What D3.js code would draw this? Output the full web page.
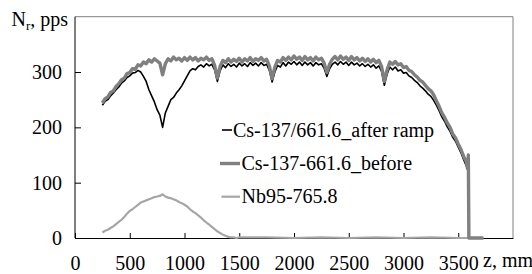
<!DOCTYPE html>
<html><head><meta charset="utf-8">
<script src="https://cdn.jsdelivr.net/npm/d3@7"></script>
<style>
html,body{margin:0;padding:0;background:#fff;}
svg{display:block;}
</style></head>
<body><svg id="c" width="532" height="274"></svg>
<script>
// ---- data ----
const zCs = [250,275,300,325,350,375,400,425,450,475,500,525,550,575,600,625,650,675,700,725,750,775,800,825,850,875,900,925,950,975,
1000,1025,1050,1075,1100,1125,1150,1175,1200,1225,1250,1275,1300,1325,1350,1375,1400,1425,1450,1475,1500,1525,1550,1575,1600,1625,1650,1675,1700,1725,1750,1775,1800,1825,1850,1875,1900,1925,1950,1975,
2000,2025,2050,2075,2100,2125,2150,2175,2200,2225,2250,2275,2300,2325,2350,2375,2400,2425,2450,2475,2500,2525,2550,2575,2600,2625,2650,2675,2700,2725,2750,2775,2800,2825,2850,2875,2900,2925,2950,2975,
3000,3025,3050,3075,3100,3125,3150,3175,3200,3225,3250,3275,3300,3325,3350,3375,3400,3425,3450,3475,3500,3525,3550,3575];

const csBefore = [244,252,255,263,266,274,279,286,289,297,299,306,305,313,311,318,315,322,318,324,320,316,295,315,324,320,327,322,325,320,
326,321,327,322,326,320,325,322,327,321,324,312,289,310,321,317,324,318,323,319,325,318,324,320,326,319,324,321,326,320,323,311,288,309,321,318,326,321,327,322,
329,323,327,321,328,322,326,320,327,322,325,316,299,314,323,328,322,329,323,327,321,328,322,326,320,325,319,324,318,323,317,321,310,283,304,318,314,319,313,315,
308,310,303,301,295,291,285,282,276,270,266,259,248,238,226,218,208,200,188,181,170,160,147,137];
const zBeforeTail = [3585,3592,3597,3730];
const csBeforeTail = [125,150,0,0];

const csAfter = [240,247,250,257,262,268,273,280,284,290,293,298,299,303,300,292,283,268,257,246,232,222,200,226,238,250,254,262,268,275,
284,293,302,306,304,310,313,309,315,311,314,304,283,302,313,308,315,310,314,309,316,311,315,310,317,312,316,311,317,312,314,303,282,300,312,309,317,311,318,314,
319,313,318,312,318,313,317,311,317,313,315,307,292,306,314,318,313,319,314,318,312,318,313,316,311,315,310,314,309,313,307,311,301,276,296,309,304,309,302,304,
298,299,293,290,285,281,275,271,266,260,256,249,240,230,219,211,201,193,182,175,164,154,141,130];
const zAfterTail = [3590];
const csAfterTail = [122];

const zNb = [250,275,300,325,350,375,400,425,450,475,500,525,550,575,600,625,650,675,700,725,750,775,800,825,850,875,900,925,950,975,
1000,1025,1050,1075,1100,1125,1150,1175,1200,1225,1250,1275,1300,1325,1350,1375,1400,1425,1450,1475,1500,1750,2000,2250,2500,2750,3000,3250,3500,3730];
const nb = [10,13,15,18,21,25,29,33,38,44,49,52,56,60,64,66,68,70,72,74,75,76,79,75,73,72,70,68,65,63,
60,57,52,48,45,41,37,32,28,24,20,16,12,9,6,4,2,1,1,0,1,1,0,1,0,1,0,1,0,0];

const seriesNames = ["Cs-137/661.6_after ramp","Cs-137-661.6_before","Nb95-765.8"];
const xTicks = [0,500,1000,1500,2000,2500,3000,3500];
const yTicks = [0,100,200,300];

// ---- chart ----
const FAM = '"Liberation Serif"';
const svg = d3.select("#c");
const x = d3.scaleLinear().domain([0,4000]).range([75,513]);
const y = d3.scaleLinear().domain([0,400]).range([238,16.7]);
const F = 20;

svg.append("path").attr("d",`M${x(0)},${y(400)}H${x(4000)}V${y(0)}`)
  .attr("fill","none").attr("stroke","#808080").attr("stroke-width",1);

const gy = svg.append("g").attr("transform",`translate(${x(0)},0)`)
  .call(d3.axisLeft(y).tickValues(yTicks).tickSizeInner(-6).tickSizeOuter(0).tickPadding(13).tickFormat(d3.format("d")));
const gx = svg.append("g").attr("transform",`translate(0,${y(0)})`)
  .call(d3.axisBottom(x).tickValues(xTicks).tickSizeInner(-5).tickSizeOuter(0).tickPadding(0).tickFormat(d3.format("d")));
[gx,gy].forEach(g=>{
  g.selectAll("text").style("font-family",FAM).attr("font-size",F).attr("fill","#000");
  g.selectAll("line,path").attr("stroke","#000");
});
gx.selectAll("text").attr("dy",null).attr("y",32);
gy.select(".domain").attr("d",`M0,${y(0)}V${y(400)}`);

const line = d3.line().x(d=>x(d[0])).y(d=>y(d[1]));
const afterPts = zCs.map((z,i)=>[z,csAfter[i]]).concat(zAfterTail.map((z,i)=>[z,csAfterTail[i]]));
const beforePts = zCs.map((z,i)=>[z,csBefore[i]]).concat(zBeforeTail.map((z,i)=>[z,csBeforeTail[i]]));
const nbPts = zNb.map((z,i)=>[z,nb[i]]);

svg.append("path").datum(nbPts).attr("d",line).attr("fill","none").attr("stroke","#a6a6a6").attr("stroke-width",2.2).attr("stroke-linejoin","round");
svg.append("path").datum(afterPts).attr("d",line).attr("fill","none").attr("stroke","#000").attr("stroke-width",1.6).attr("stroke-linejoin","round");
svg.append("path").datum(beforePts).attr("d",line).attr("fill","none").attr("stroke","#808080").attr("stroke-width",3.4).attr("stroke-linejoin","round");

const leg = [
  {name:seriesNames[0], color:"#000", w:1.6, x1:222, x2:232, tx:233, yy:130},
  {name:seriesNames[1], color:"#808080", w:3.4, x1:220, x2:240, tx:241.5, yy:163.5},
  {name:seriesNames[2], color:"#a6a6a6", w:2.2, x1:221.5, x2:240, tx:241.5, yy:196.7}
];
leg.forEach(l=>{
  svg.append("line").attr("x1",l.x1).attr("x2",l.x2).attr("y1",l.yy).attr("y2",l.yy)
    .attr("stroke",l.color).attr("stroke-width",l.w);
  svg.append("text").attr("x",l.tx).attr("y",l.yy+6.5).style("font-family",FAM).attr("font-size",F).text(l.name);
});

const t = svg.append("text").attr("x",11.5).attr("y",26).style("font-family",FAM).attr("font-size",F);
t.append("tspan").text("N");
t.append("tspan").attr("font-size",13).attr("dy",4).text("r");
t.append("tspan").attr("dy",-4).text(", pps");
svg.append("text").attr("x",483).attr("y",267).style("font-family",FAM).attr("font-size",F).text("z, mm");
</script></body></html>
